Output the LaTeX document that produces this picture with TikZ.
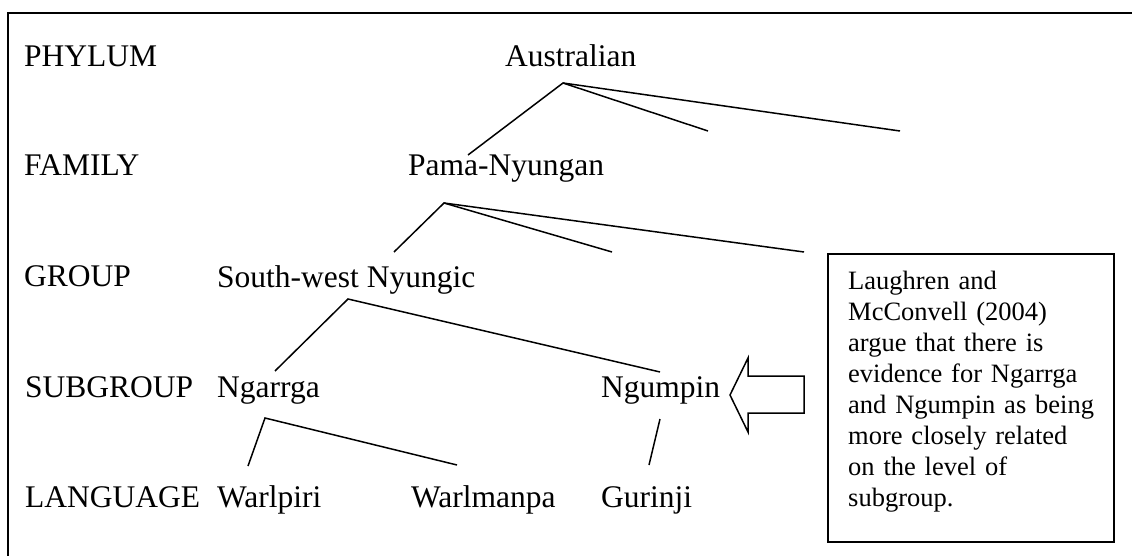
\documentclass[tikz,border=0pt]{standalone}
\usepackage{fontspec}
\setmainfont{Liberation Serif}
\begin{document}
\begin{tikzpicture}[x=1pt,y=-1pt,
  lbl/.style={anchor=base west, inner sep=0pt, font=\fontsize{31.5}{36}\selectfont},
  branch/.style={line width=1.5pt},
  framestyle/.style={line width=1.8pt},
  notebox/.style={draw, line width=1.8pt, inner sep=0pt, anchor=north west, minimum width=286pt, minimum height=288pt},
  notetxt/.style={inner sep=0pt, anchor=north west, text width=262pt, align=left, font=\fontsize{26.5}{31}\selectfont},
  blockarrow/.style={line width=1.5pt, line join=miter}]
\clip (0,0) rectangle (1132,556);
\fill[white] (0,0) rectangle (1132,556);
\draw[framestyle] (8,600) -- (8,13) -- (1160,13);

% level labels
\node[lbl] (phylum) at (24,67) {PHYLUM};
\node[lbl] (family) at (24,176) {FAMILY};
\node[lbl] (group) at (24,286) {GROUP};
\node[lbl] (subgroup) at (25,397) {SUBGROUP};
\node[lbl] (language) at (25,507) {LANGUAGE};

% tree nodes
\node[lbl] (aus) at (505,67) {Australian};
\node[lbl] (pama) at (408,176) {Pama-Nyungan};
\node[lbl] (sw) at (217,287) {South-west Nyungic};
\node[lbl] (ngarrga) at (217,397) {Ngarrga};
\node[lbl] (ngumpin) at (601,397) {Ngumpin};
\node[lbl] (warlpiri) at (217,507) {Warlpiri};
\node[lbl] (warlmanpa) at (411,507) {Warlmanpa};
\node[lbl] (gurinji) at (601,507) {Gurinji};

% branch points
\coordinate (ausT) at (563,83);
\coordinate (pamaB) at (468,155);
\coordinate (ausS1) at (708,131);
\coordinate (ausS2) at (900,131);
\coordinate (pamaT) at (444,203);
\coordinate (swB) at (394,252);
\coordinate (pamaS1) at (612,252);
\coordinate (pamaS2) at (804,252);
\coordinate (swT) at (348,299);
\coordinate (ngarrgaB) at (275,371);
\coordinate (ngumpinB) at (660,372);
\coordinate (ngarrgaT) at (265,418);
\coordinate (warlpiriB) at (248,466);
\coordinate (warlmanpaB) at (457,465);
\coordinate (ngumpinT) at (660,419);
\coordinate (gurinjiB) at (649,465);

\draw[branch] (pamaB) -- (ausT) -- (ausS1);
\draw[branch] (ausT) -- (ausS2);
\draw[branch] (swB) -- (pamaT) -- (pamaS1);
\draw[branch] (pamaT) -- (pamaS2);
\draw[branch] (ngarrgaB) -- (swT) -- (ngumpinB);
\draw[branch] (warlpiriB) -- (ngarrgaT) -- (warlmanpaB);
\draw[branch] (ngumpinT) -- (gurinjiB);

% note
\node[notebox] (note) at (827,253) {};
\node[notetxt] (notetext) at (848,271) {Laughren and\\McConvell (2004)\\argue that there is\\evidence for Ngarrga\\and Ngumpin as being\\more closely related\\on the level of\\subgroup.};

% block arrow
\draw[blockarrow] (730,395) -- (748,358) -- (748,376) -- (804,376) -- (804,413) -- (748,413) -- (748,432) -- cycle;
\end{tikzpicture}
\end{document}
